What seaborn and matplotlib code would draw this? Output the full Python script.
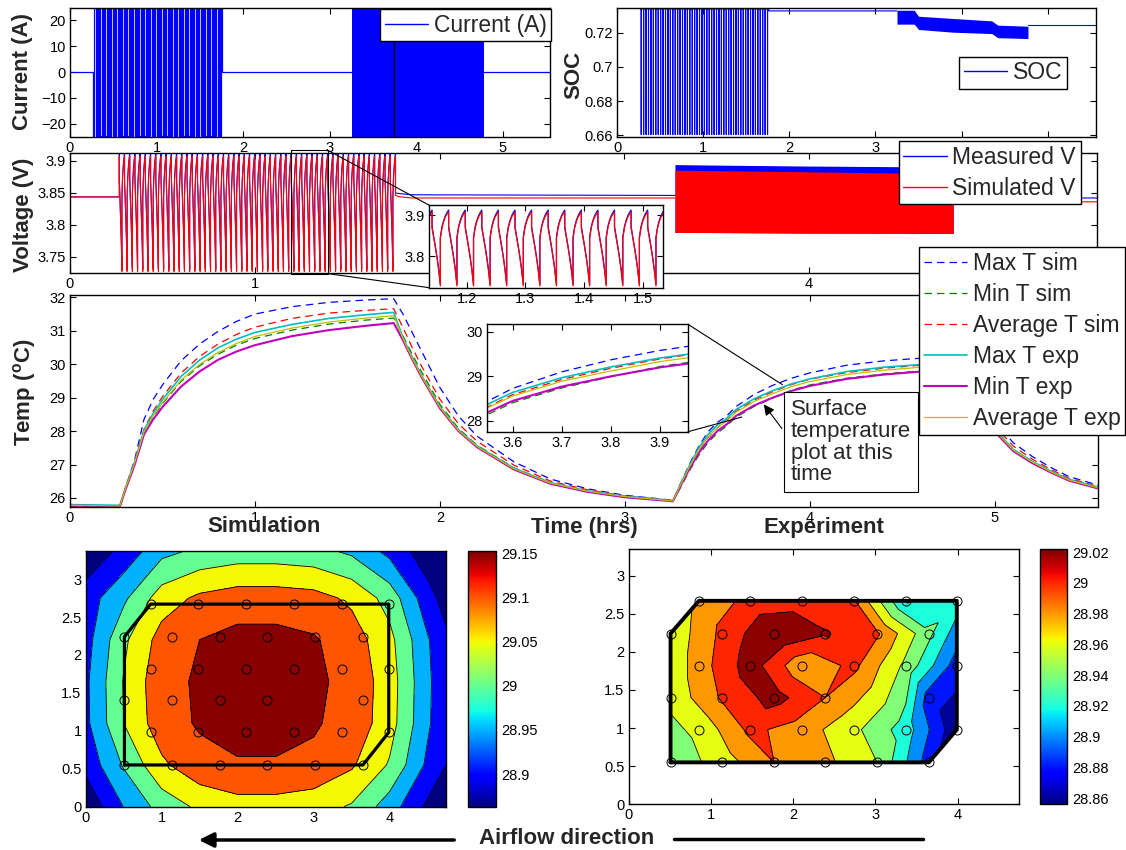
import numpy as np
import matplotlib
matplotlib.use("Agg")
import matplotlib.pyplot as plt
import seaborn as sns
from matplotlib.colors import Normalize
from matplotlib.cm import ScalarMappable
from matplotlib.patches import Rectangle, ConnectionPatch, FancyArrowPatch
from matplotlib.lines import Line2D
from matplotlib.ticker import FuncFormatter

# ------------------------------------------------------------------
# values
# ------------------------------------------------------------------
t_end = 5.56

# pulse block 1 (shared time base)
pulse_start = 0.267
pulse_period = 0.0282
pulse_count = 53

# current (A)
current_phase = [0.0, 0.5, 0.5, 1.0]
current_cycle = [-25, -25, 25, 25]
current_block2 = [3.26, 4.78]
surface_time = 3.748

# SOC
soc_rest0 = 0.7345
soc_phase = [0.0, 0.48, 0.5, 0.52, 1.0]
soc_cycle = [0.7338, 0.7338, 0.6605, 0.7338, 0.7338]
soc_rest1 = 0.7326
soc_block2_t = [3.25, 3.45, 3.50, 3.90, 4.35, 4.42, 4.77]
soc_block2_top = [0.7330, 0.7330, 0.7295, 0.7282, 0.7268, 0.7243, 0.7237]
soc_block2_bot = [0.7249, 0.7249, 0.7218, 0.7202, 0.7194, 0.7170, 0.7165]
soc_rest2 = 0.7243

# voltage (V)
v_rest0 = 3.8437
v_phase = [0.0, 0.0, 0.1, 0.2, 0.3, 0.4, 0.5, 0.5, 0.6, 0.7, 0.8, 0.9, 1.0]
v_meas_cycle = [3.912, 3.872, 3.848, 3.823, 3.797, 3.768, 3.731,
                3.846, 3.872, 3.887, 3.898, 3.906, 3.912]
v_sim_cycle = [3.907, 3.868, 3.845, 3.821, 3.795, 3.765, 3.727,
               3.843, 3.869, 3.884, 3.895, 3.902, 3.907]
v_rest1_t = [1.7616, 1.78, 1.85, 3.274]
v_rest1_meas = [3.850, 3.849, 3.847, 3.846]
v_rest1_sim = [3.846, 3.844, 3.842, 3.842]
v_block2_t = [3.274, 3.5, 4.0, 4.5, 4.78]
v_block2_meas_top = [3.8943, 3.8935, 3.892, 3.891, 3.890]
v_block2_sim_top = [3.8855, 3.8848, 3.883, 3.881, 3.880]
v_block2_bot = [3.788, 3.7878, 3.787, 3.7868, 3.7866]
v_rest2_t = [4.78, 4.80, 5.56]
v_rest2_meas = [3.845, 3.842, 3.842]
v_rest2_sim = [3.840, 3.836, 3.836]

# temperatures (deg C)
t_temp = [0.00, 0.27, 0.30, 0.35, 0.40, 0.45, 0.50, 0.60, 0.70, 0.80,
          0.90, 1.00, 1.20, 1.40, 1.60, 1.75, 1.80, 1.85, 1.90, 2.00,
          2.10, 2.20, 2.40, 2.60, 2.80, 3.00, 3.26, 3.30, 3.35, 3.40,
          3.45, 3.50, 3.55, 3.60, 3.70, 3.80, 3.90, 4.00, 4.20, 4.40,
          4.60, 4.76, 4.80, 4.85, 4.90, 5.00, 5.10, 5.20, 5.30, 5.40,
          5.56]
max_t_sim = [25.75, 25.74, 26.30, 27.15, 28.35, 28.95, 29.38, 30.10, 30.60, 30.98,
             31.28, 31.50, 31.72, 31.85, 31.92, 31.96, 31.50, 30.95, 30.40, 29.30,
             28.45, 27.85, 27.08, 26.56, 26.27, 26.08, 25.93, 26.42, 27.02, 27.55,
             27.98, 28.26, 28.45, 28.73, 29.10, 29.37, 29.58, 29.74, 29.97, 30.10,
             30.18, 30.24, 29.95, 29.50, 29.05, 28.30, 27.65, 27.25, 26.92, 26.64,
             26.38]
min_t_sim = [25.75, 25.74, 26.28, 27.05, 27.95, 28.44, 28.82, 29.48, 29.95, 30.30,
             30.57, 30.77, 31.02, 31.20, 31.32, 31.38, 30.85, 30.30, 29.78, 28.80,
             28.08, 27.58, 26.90, 26.45, 26.20, 26.03, 25.90, 26.30, 26.82, 27.28,
             27.66, 27.94, 28.15, 28.41, 28.74, 28.99, 29.22, 29.38, 29.58, 29.71,
             29.80, 29.86, 29.50, 29.10, 28.70, 28.05, 27.45, 27.10, 26.80, 26.55,
             26.30]
avg_t_sim = [25.76, 25.75, 26.30, 27.10, 28.05, 28.60, 29.03, 29.73, 30.23, 30.60,
             30.89, 31.11, 31.37, 31.53, 31.61, 31.66, 31.10, 30.50, 29.95, 28.95,
             28.22, 27.70, 26.98, 26.50, 26.24, 26.06, 25.92, 26.36, 26.92, 27.42,
             27.82, 28.10, 28.32, 28.59, 28.93, 29.18, 29.39, 29.55, 29.75, 29.88,
             29.97, 30.02, 29.70, 29.28, 28.85, 28.15, 27.55, 27.17, 26.86, 26.59,
             26.34]
max_t_exp = [25.80, 25.78, 26.30, 27.08, 28.02, 28.53, 28.94, 29.63, 30.12, 30.49,
             30.75, 30.95, 31.19, 31.37, 31.48, 31.55, 30.80, 30.21, 29.67, 28.73,
             28.04, 27.56, 26.89, 26.45, 26.21, 26.05, 25.92, 26.40, 26.98, 27.50,
             27.90, 28.18, 28.38, 28.64, 28.97, 29.21, 29.41, 29.56, 29.78, 29.91,
             29.99, 30.04, 29.55, 29.12, 28.70, 28.05, 27.45, 27.10, 26.81, 26.56,
             26.32]
min_t_exp = [25.77, 25.75, 26.25, 27.00, 27.90, 28.35, 28.72, 29.33, 29.78, 30.13,
             30.38, 30.57, 30.84, 31.02, 31.15, 31.23, 30.72, 30.15, 29.62, 28.68,
             28.00, 27.52, 26.85, 26.42, 26.18, 26.02, 25.90, 26.35, 26.88, 27.35,
             27.72, 28.00, 28.20, 28.45, 28.77, 29.00, 29.20, 29.35, 29.56, 29.69,
             29.78, 29.84, 29.43, 29.02, 28.62, 27.98, 27.40, 27.05, 26.77, 26.52,
             26.28]
avg_t_exp = [25.78, 25.76, 26.28, 27.05, 27.97, 28.46, 28.85, 29.52, 29.99, 30.35,
             30.62, 30.83, 31.08, 31.26, 31.38, 31.45, 30.77, 30.18, 29.65, 28.71,
             28.02, 27.54, 26.87, 26.44, 26.20, 26.04, 25.91, 26.38, 26.94, 27.44,
             27.83, 28.10, 28.30, 28.56, 28.89, 29.12, 29.33, 29.48, 29.69, 29.82,
             29.91, 29.96, 29.50, 29.08, 28.67, 28.02, 27.43, 27.08, 26.79, 26.54,
             26.30]

# surface temperature, simulation grid
sim_x = [0, 0.5, 1.0, 1.5, 2.0, 2.5, 3.0, 3.5, 4.0, 4.5, 4.74]
sim_y = [0, 0.55, 1.1, 1.65, 2.2, 2.75, 3.37]
sim_T = [
    [28.860, 28.951, 29.020, 29.060, 29.080, 29.080, 29.070, 29.045, 28.975, 28.890, 28.860],
    [28.915, 29.005, 29.090, 29.135, 29.148, 29.148, 29.140, 29.107, 29.045, 28.940, 28.900],
    [28.938, 29.050, 29.130, 29.155, 29.158, 29.158, 29.155, 29.133, 29.072, 28.958, 28.913],
    [28.940, 29.053, 29.135, 29.156, 29.160, 29.160, 29.160, 29.135, 29.075, 28.960, 28.915],
    [28.930, 29.040, 29.120, 29.150, 29.165, 29.165, 29.155, 29.125, 29.065, 28.955, 28.910],
    [28.925, 28.990, 29.075, 29.110, 29.125, 29.125, 29.118, 29.090, 29.030, 28.920, 28.880],
    [28.860, 28.915, 28.985, 29.010, 29.022, 29.022, 29.015, 28.990, 28.935, 28.870, 28.850],
]
sim_levels = [28.80, 28.90, 28.95, 29.00, 29.05, 29.10, 29.15, 29.20]
sim_range = [28.863, 29.153]
sim_cbar_ticks = [28.9, 28.95, 29.0, 29.05, 29.1, 29.15]

# sensor positions (cm) and measured temperatures
sensor_x = [0.855, 1.48, 2.11, 2.74, 3.37, 3.99,
            0.51, 1.14, 1.77, 2.39, 3.02, 3.65,
            0.855, 1.48, 2.11, 2.74, 3.37, 3.99,
            0.51, 1.14, 1.77, 2.39, 3.65,
            0.855, 1.48, 2.11, 2.74, 3.37, 3.99,
            0.51, 1.14, 1.77, 2.39, 3.02, 3.65]
sensor_y = [2.67] * 6 + [2.24] * 6 + [1.82] * 6 + [1.40] * 5 + [0.98] * 6 + [0.55] * 6
exp_T = [28.985, 29.006, 29.010, 29.002, 28.918, 28.930,
         28.965, 29.005, 29.040, 29.022, 29.003, 28.945,
         28.990, 29.030, 28.985, 29.005, 28.955, 28.890,
         28.965, 29.003, 29.028, 29.000, 28.890,
         28.965, 29.005, 28.990, 28.965, 28.930, 28.865,
         28.945, 28.970, 29.000, 28.985, 28.960, 28.890]
exp_levels = [28.85, 28.86, 28.88, 28.90, 28.92, 28.94, 28.96, 28.98, 29.00, 29.02, 29.05]
exp_range = [28.856, 29.022]
exp_cbar_ticks = [28.86, 28.88, 28.90, 28.92, 28.94, 28.96, 28.98, 29.00, 29.02]
outline_x = [0.51, 3.65, 3.99, 3.99, 0.855, 0.51, 0.51]
outline_y = [0.55, 0.55, 0.98, 2.67, 2.67, 2.24, 0.55]

# ------------------------------------------------------------------
sns.set_theme(style="ticks")
plt.rcParams["font.family"] = ["Liberation Sans", "DejaVu Sans"]
plt.rcParams.update({
    "mathtext.fontset": "custom",
    "mathtext.rm": "Liberation Sans",
    "mathtext.bf": "Liberation Sans:bold",
    "mathtext.it": "Liberation Sans:italic",
    "axes.edgecolor": "black",
    "axes.linewidth": 1.0,
    "xtick.color": "black",
    "ytick.color": "black",
})

W, H = 1126, 850
fig = plt.figure(figsize=(W / 100, H / 100), dpi=100)


def place(left, top, right, bottom):
    return fig.add_axes([left / W, 1 - bottom / H, (right - left) / W, (bottom - top) / H])


fmt = FuncFormatter(lambda v, p: f"{v:g}".replace("-", "\u2212"))


def style(ax, xticks, yticks, xlim, ylim):
    ax.set_xlim(xlim)
    ax.set_ylim(ylim)
    ax.set_xticks(xticks)
    ax.set_yticks(yticks)
    ax.xaxis.set_major_formatter(fmt)
    ax.yaxis.set_major_formatter(fmt)
    ax.tick_params(direction="in", top=True, right=True, length=4, width=0.8,
                   labelsize=10.5, pad=3)
    ax.set_xlabel("")
    ax.set_ylabel("")
    ax.minorticks_off()


def trace(ax, x, y, **kw):
    sns.lineplot(x=np.asarray(x, float), y=np.asarray(y, float), ax=ax,
                 estimator=None, sort=False, legend=False, **kw)


def key(color, lw=1.0, ls="-"):
    return Line2D([], [], color=color, lw=lw, linestyle=ls)


def pulses(phase, values):
    t = np.concatenate([pulse_start + (k + np.asarray(phase)) * pulse_period
                        for k in range(pulse_count)])
    return t, np.tile(values, pulse_count)


pulse_end = pulse_start + pulse_count * pulse_period
time_ticks = [0, 1, 2, 3, 4, 5]

leg_kw = dict(frameon=True, fancybox=False, edgecolor="black", framealpha=1,
              fontsize=16.5, borderaxespad=0, handlelength=1.9, handletextpad=0.25,
              borderpad=0.2, loc="upper left", bbox_transform=fig.transFigure)

# ---------------- current ----------------
ax_i = place(70, 7.5, 550, 136.5)
tp, ip = pulses(current_phase, current_cycle)
trace(ax_i, np.r_[0, pulse_start, tp, pulse_end, t_end],
      np.r_[0, 0, ip, 0, 0], color="blue", lw=0.9)
ax_i.fill_between(current_block2, -25, 25, color="blue", lw=0)
ax_i.axvline(surface_time, color="black", lw=1)
style(ax_i, time_ticks, [-20, -10, 0, 10, 20], (0, 5.545), (-25, 25))
leg = ax_i.legend([key("blue")], ["Current (A)"],
                  bbox_to_anchor=(380 / W, 1 - 9.3 / H), **leg_kw)
leg.get_frame().set_linewidth(1.0)

# ---------------- SOC ----------------
ax_s = place(617, 7.5, 1096, 136.5)
ts, sp = pulses(soc_phase, soc_cycle)
trace(ax_s, np.r_[0, pulse_start, ts, pulse_end, soc_block2_t[0]],
      np.r_[soc_rest0, soc_rest0, sp, soc_rest1, soc_rest1], color="blue", lw=0.8)
ax_s.fill_between(soc_block2_t, soc_block2_bot, soc_block2_top, color="blue", lw=0)
trace(ax_s, [soc_block2_t[-1], t_end], [soc_rest2, soc_rest2], color="blue", lw=0.8)
style(ax_s, time_ticks, [0.66, 0.68, 0.70, 0.72], (0, 5.56), (0.6594, 0.7346))
leg = ax_s.legend([key("blue")], ["SOC"], bbox_to_anchor=(959 / W, 1 - 56.7 / H), **leg_kw)
leg.get_frame().set_linewidth(1.0)

# ---------------- voltage ----------------
ax_v = place(70, 153.3, 1097, 273.3)
tv, vm = pulses(v_phase, v_meas_cycle)
_, vs = pulses(v_phase, v_sim_cycle)
trace(ax_v, np.r_[0, pulse_start, tv, v_rest1_t], np.r_[v_rest0, v_rest0, vm, v_rest1_meas],
      color="blue", lw=0.8)
trace(ax_v, np.r_[0, pulse_start, tv, v_rest1_t], np.r_[v_rest0, v_rest0, vs, v_rest1_sim],
      color="red", lw=0.8)
ax_v.fill_between(v_block2_t, v_block2_bot, v_block2_meas_top, color="blue", lw=0)
ax_v.fill_between(v_block2_t, v_block2_bot, v_block2_sim_top, color="red", lw=0)
trace(ax_v, v_rest2_t, v_rest2_meas, color="blue", lw=0.8)
trace(ax_v, v_rest2_t, v_rest2_sim, color="red", lw=0.8)
style(ax_v, time_ticks, [3.75, 3.8, 3.85, 3.9], (0, 5.558), (3.724, 3.912))
ax_v.add_patch(Rectangle((1.198, 3.7235), 0.198, 0.1932, fill=False, ec="black",
                         lw=0.8, clip_on=False, zorder=5))
leg = ax_v.legend([key("blue"), key("red")], ["Measured V", "Simulated V"],
                  labelspacing=0.35, bbox_to_anchor=(898.6 / W, 1 - 141 / H), **leg_kw)
leg.get_frame().set_linewidth(1.0)

# ---------------- temperature ----------------
ax_t = place(70, 295, 1098, 507.3)
temp_series = [
    (max_t_sim, "Max T sim", "#0000ff", (0, (6, 4)), 0.9),
    (min_t_sim, "Min T sim", "#008000", (0, (6, 4)), 0.9),
    (avg_t_sim, "Average T sim", "#ff0000", (0, (6, 4)), 0.9),
    (max_t_exp, "Max T exp", "#00bfbf", "-", 1.2),
    (min_t_exp, "Min T exp", "#bf00bf", "-", 1.5),
    (avg_t_exp, "Average T exp", "#bfbf00", "-", 0.9),
]
for vals, lab, col, ls, lw in temp_series:
    trace(ax_t, t_temp, vals, color=col, linestyle=ls, lw=lw)
style(ax_t, time_ticks, [26, 27, 28, 29, 30, 31, 32], (0, 5.558), (25.72, 32.07))
ax_t.text(3.898, 28.96, "Surface\ntemperature\nplot at this\ntime", fontsize=16,
          va="top", ha="left", linespacing=1.05, zorder=6,
          bbox=dict(boxstyle="square,pad=0.3", fc="white", ec="black", lw=0.8))
ax_t.annotate("", xy=(3.742, 28.864), xytext=(3.858, 28.01), zorder=7,
              arrowprops=dict(arrowstyle="-|>", color="black", lw=0.8, mutation_scale=16))
leg = ax_t.legend([key(s[2], s[4], s[3]) for s in temp_series], [s[1] for s in temp_series],
                  labelspacing=0.35, bbox_to_anchor=(919 / W, 1 - 247.3 / H), **leg_kw)
leg.get_frame().set_linewidth(1.0)

# ---------------- insets ----------------
ax_vi = place(429.3, 205.3, 662.5, 287.7)
trace(ax_vi, tv, vm, color="blue", lw=0.9)
trace(ax_vi, tv, vs, color="red", lw=0.9)
style(ax_vi, [1.2, 1.3, 1.4, 1.5], [3.8, 3.9], (1.1365, 1.533), (3.7227, 3.9237))

ax_ti = place(486.7, 324.3, 688, 431.7)
for vals, lab, col, ls, lw in temp_series:
    trace(ax_ti, t_temp, vals, color=col, linestyle=ls, lw=lw)
style(ax_ti, [3.6, 3.7, 3.8, 3.9], [28, 29, 30], (3.547, 3.957), (27.76, 30.165))

for xyA, xyB in [((1.396, 3.9167), (0, 1)), ((1.396, 3.7235), (0, 0))]:
    fig.add_artist(ConnectionPatch(xyA=xyA, coordsA=ax_v.transData, xyB=xyB,
                                   coordsB=ax_vi.transAxes, color="black", lw=0.8))
for xyA, xyB in [((3.852, 29.387), (1, 1)), ((3.632, 28.419), (1, 0))]:
    fig.add_artist(ConnectionPatch(xyA=xyA, coordsA=ax_t.transData, xyB=xyB,
                                   coordsB=ax_ti.transAxes, color="black", lw=0.8))

# ---------------- surface maps ----------------
def jet_colors(levels_lower, rng):
    norm = Normalize(*rng)
    return [plt.cm.jet(norm(v)) for v in levels_lower]


ax_sim = place(85.7, 551, 445.7, 806.7)
sim_lower = [sim_range[0]] + sim_levels[1:-1]
ax_sim.contourf(sim_x, sim_y, np.array(sim_T), levels=sim_levels,
                colors=jet_colors(sim_lower, sim_range))
ax_sim.contour(sim_x, sim_y, np.array(sim_T), levels=sim_levels[1:-1],
               colors="black", linewidths=0.6)
ax_sim.plot(outline_x, outline_y, color="black", lw=2.3)
ax_sim.plot(sensor_x, sensor_y, "o", mfc="none", mec="black", ms=6.5, mew=0.7, ls="none")
style(ax_sim, [0, 1, 2, 3, 4], [0, 0.5, 1, 1.5, 2, 2.5, 3], (0, 4.74), (0, 3.37))

cax_sim = place(467.9, 551, 496.4, 806.7)
cb = fig.colorbar(ScalarMappable(norm=Normalize(*sim_range), cmap="jet"), cax=cax_sim)
cb.set_ticks(sim_cbar_ticks)
cb.ax.yaxis.set_major_formatter(fmt)
cb.outline.set_linewidth(1.0)
cax_sim.tick_params(direction="in", left=True, right=True, length=4, labelsize=10.5)

ax_exp = place(628.6, 549, 1018.5, 804.3)
exp_lower = [exp_range[0]] + exp_levels[1:-1]
ax_exp.tricontourf(sensor_x, sensor_y, exp_T, levels=exp_levels,
                   colors=jet_colors(exp_lower, exp_range))
ax_exp.tricontour(sensor_x, sensor_y, exp_T, levels=exp_levels[1:-1],
                  colors="black", linewidths=0.6)
ax_exp.plot(outline_x, outline_y, color="black", lw=2.8)
ax_exp.plot(sensor_x, sensor_y, "o", mfc="none", mec="black", ms=6.5, mew=0.7, ls="none")
style(ax_exp, [0, 1, 2, 3, 4], [0, 0.5, 1, 1.5, 2, 2.5, 3], (0, 4.74), (0, 3.35))

cax_exp = place(1040, 549, 1067, 804.3)
cb = fig.colorbar(ScalarMappable(norm=Normalize(*exp_range), cmap="jet"), cax=cax_exp)
cb.set_ticks(exp_cbar_ticks)
cb.ax.yaxis.set_major_formatter(fmt)
cb.outline.set_linewidth(1.0)
cax_exp.tick_params(direction="in", left=True, right=True, length=4, labelsize=10.5)

# ---------------- labels ----------------
def ftext(x, y, s, **kw):
    fig.text(x / W, 1 - y / H, s, ha="center", va="center", fontsize=16,
             fontweight="bold", **kw)


ftext(22.8, 71.7, "Current (A)", rotation=90)
ftext(573.4, 75, "SOC", rotation=90)
ftext(23, 215, "Voltage (V)", rotation=90)
ftext(24, 392, r"Temp ($^{\mathbf{o}}$C)", rotation=90)
ftext(264, 527, "Simulation")
ftext(584, 527, "Time (hrs)")
ftext(823.6, 528, "Experiment")
ftext(566.6, 838, "Airflow direction")

fig.add_artist(FancyArrowPatch((457 / W, 1 - 840 / H), (196 / W, 1 - 840 / H),
                               transform=fig.transFigure, arrowstyle="-|>",
                               mutation_scale=22, lw=2.5, color="black"))
fig.add_artist(Line2D([673.7 / W, 922.8 / W], [1 - 839 / H, 1 - 839 / H],
                      transform=fig.transFigure, lw=2.5, color="black"))

fig.savefig("out.png", dpi=100)
